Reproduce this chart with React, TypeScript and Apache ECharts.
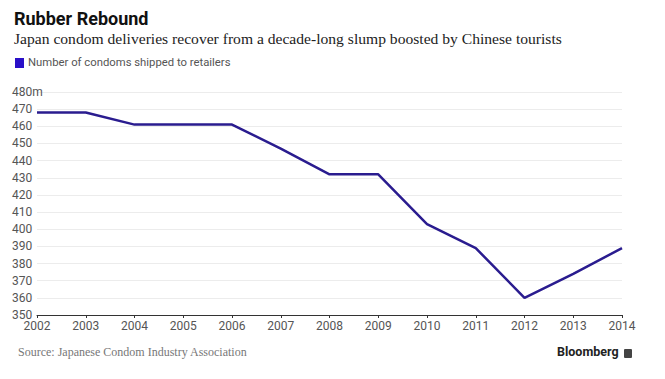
import React, { useEffect, useRef } from "react";
import * as echarts from "echarts";

const years = ["2002","2003","2004","2005","2006","2007","2008","2009","2010","2011","2012","2013","2014"];
const shipments = [468, 468, 461, 461, 461, 447, 432, 432, 403, 389, 360, 374, 389];
const yMin = 350;
const yMax = 480;
const yStep = 10;

const TITLE = "Rubber Rebound";
const SUBTITLE = "Japan condom deliveries recover from a decade-long slump boosted by Chinese tourists";
const LEGEND = "Number of condoms shipped to retailers";
const SOURCE = "Source: Japanese Condom Industry Association";

export default function App() {
  const ref = useRef<HTMLDivElement>(null);
  useEffect(() => {
    if (!ref.current) return;
    const chart = echarts.init(ref.current, null, { renderer: "svg" });
    chart.setOption({
      animation: false,
      backgroundColor: "#ffffff",
      grid: { left: 37, right: 43, top: 92, bottom: 64, containLabel: false },
      xAxis: {
        type: "category",
        data: years,
        boundaryGap: false,
        axisLine: { show: true, lineStyle: { color: "#333", width: 1 } },
        axisTick: { show: true, length: 3, alignWithLabel: true, lineStyle: { color: "#333" } },
        axisLabel: { color: "#555", fontSize: 12, fontFamily: "Roboto, Arial, sans-serif", margin: 5 },
        splitLine: { show: false },
      },
      yAxis: {
        type: "value",
        min: yMin,
        max: yMax,
        interval: yStep,
        axisLine: { show: false },
        axisTick: { show: false },
        axisLabel: {
          color: "#555",
          fontSize: 12,
          fontFamily: "Roboto, Arial, sans-serif",
          margin: 25,
          align: "left",
          formatter: (v: number) => (v === yMax ? v + "m" : String(v)),
        },
        splitLine: { show: true, lineStyle: { color: "#ececec", width: 1 } },
      },
      series: [
        {
          type: "line",
          data: shipments,
          symbol: "none",
          lineStyle: { color: "#2a1c8f", width: 2.5 },
          z: 5,
        },
      ],
      graphic: [
        {
          type: "text",
          left: 14,
          top: 9,
          style: { text: TITLE, fontSize: 18, fontWeight: "bold", fill: "#111", fontFamily: "Roboto, Arial, sans-serif" },
        },
        {
          type: "text",
          left: 14,
          top: 30,
          style: { text: SUBTITLE, fontSize: 15.6, fill: "#222", fontFamily: "'Liberation Serif', 'DejaVu Serif', serif" },
        },
        {
          type: "rect",
          shape: { x: 15, y: 58, width: 9, height: 10 },
          style: { fill: "#2a10c8" },
        },
        {
          type: "text",
          left: 28,
          top: 57,
          style: { text: LEGEND, fontSize: 11.3, fill: "#555", fontFamily: "Roboto, Arial, sans-serif" },
        },
        {
          type: "text",
          left: 18,
          top: 346,
          style: { text: SOURCE, fontSize: 12, fill: "#777", fontFamily: "'Liberation Serif', 'DejaVu Serif', serif" },
        },
        {
          type: "text",
          left: 557,
          top: 345,
          style: { text: "Bloomberg", fontSize: 12.5, fontWeight: "bold", fill: "#222", fontFamily: "Roboto, Arial, sans-serif" },
        },
        {
          type: "rect",
          shape: { x: 624, y: 349, width: 8, height: 9, r: 1 },
          style: { fill: "#444" },
        },
      ],
    });
    return () => chart.dispose();
  }, []);
  return <div ref={ref} style={{ width: 665, height: 379, margin: -8 }} />;
}
